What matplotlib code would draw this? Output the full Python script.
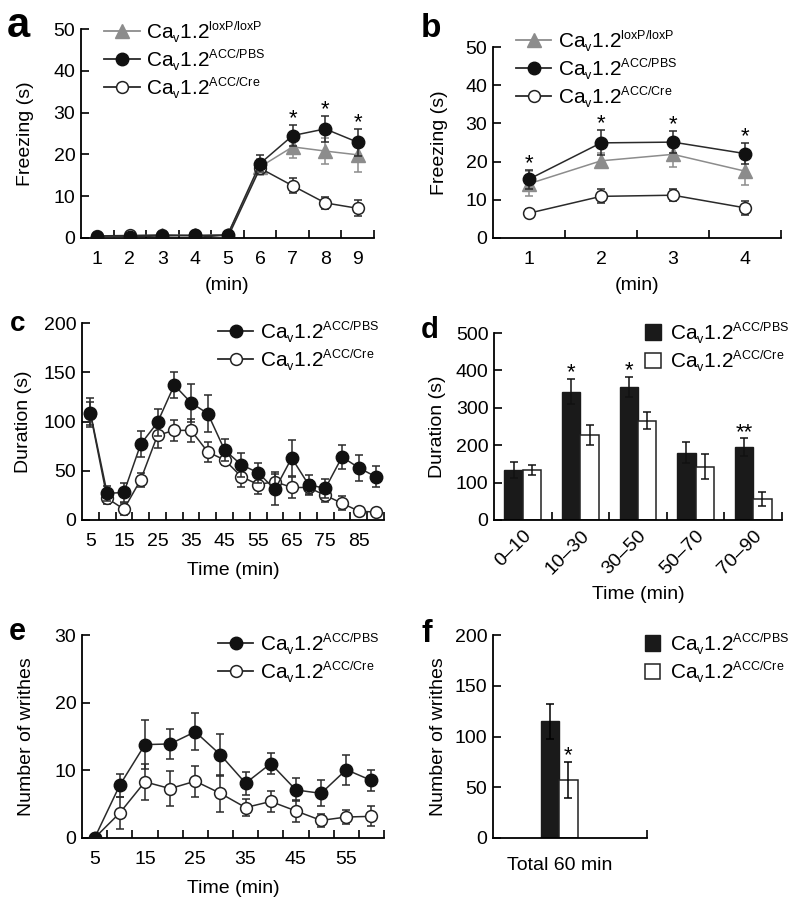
import matplotlib
matplotlib.use('Agg')
import matplotlib.pyplot as plt
from matplotlib.lines import Line2D
from matplotlib.patches import Patch
import numpy as np

try:
    # smaller super/subscripts, closer to the journal style
    import matplotlib._mathtext as _mt
    _mt.SHRINK_FACTOR = 0.6
except Exception:
    pass

plt.rcParams['font.family'] = ['Liberation Sans', 'DejaVu Sans']
plt.rcParams['mathtext.fontset'] = 'custom'
plt.rcParams['mathtext.rm'] = 'Liberation Sans'
plt.rcParams['font.size'] = 14

# panel a: conditioning (min 1..9)
a_min = [1, 2, 3, 4, 5, 6, 7, 8, 9]
a_lox = [0.3, 0.5, 0.7, 0.6, 0.8, 17.0, 21.8, 20.8, 19.9]
a_lox_err = [0.4, 0.4, 0.4, 0.4, 0.4, 2.0, 2.6, 3.1, 4.0]
a_pbs = [0.2, 0.3, 0.5, 0.6, 0.7, 17.8, 24.5, 26.1, 22.9]
a_pbs_err = [0.3, 0.3, 0.3, 0.3, 0.3, 2.0, 2.5, 3.2, 3.2]
a_cre = [0.5, 0.6, 0.7, 0.6, 0.0, 16.7, 12.5, 8.4, 7.1]
a_cre_err = [0.3, 0.3, 0.3, 0.3, 0.3, 1.5, 1.8, 1.5, 1.9]
a_star = [7, 8, 9]

# panel b: test (min 1..4)
b_min = [1, 2, 3, 4]
b_lox = [14.2, 20.2, 21.9, 17.5]
b_lox_err = [3.3, 2.0, 3.3, 3.7]
b_pbs = [15.4, 24.9, 25.1, 22.1]
b_pbs_err = [2.5, 3.3, 2.9, 2.8]
b_cre = [6.5, 10.9, 11.2, 7.9]
b_cre_err = [1.0, 1.8, 1.6, 1.9]
b_star = [1, 2, 3, 4]

# panel c: formalin duration
c_time = [5, 10, 15, 20, 25, 30, 35, 40, 45, 50, 55, 60, 65, 70, 75, 80, 85, 90]
c_pbs = [109, 27, 28, 77, 99, 137, 119, 108, 71, 56, 48, 31, 63, 36, 32, 64, 53, 44]
c_pbs_err = [15, 8, 10, 13, 14, 13, 19, 19, 11, 12, 10, 16, 18, 10, 10, 12, 13, 11]
c_cre = [108, 22, 11, 41, 86, 91, 91, 69, 61, 44, 36, 39, 33, 33, 25, 17, 9, 8]
c_cre_err = [12, 6, 6, 7, 13, 11, 12, 10, 5, 10, 10, 10, 11, 8, 7, 7, 3, 3]

# panel d: binned duration
d_bins = ['0–10', '10–30', '30–50', '50–70', '70–90']
d_pbs = [134, 343, 355, 180, 195]
d_pbs_err = [22, 33, 27, 28, 23]
d_cre = [133, 227, 266, 143, 56]
d_cre_err = [13, 26, 22, 33, 19]
d_star = ['', '*', '*', '', '**']

# panel e: writhes per 5 min
e_time = [5, 10, 15, 20, 25, 30, 35, 40, 45, 50, 55, 60]
e_pbs = [0, 7.8, 13.8, 13.9, 15.7, 12.3, 8.1, 11.0, 7.1, 6.6, 10.1, 8.5]
e_pbs_err = [0, 1.7, 3.6, 2.2, 2.7, 3.1, 1.7, 1.6, 1.7, 1.9, 2.2, 1.6]
e_cre = [0, 3.7, 8.3, 7.3, 8.4, 6.6, 4.5, 5.4, 4.0, 2.6, 3.1, 3.2]
e_cre_err = [0, 2.4, 2.7, 2.6, 2.3, 2.7, 1.3, 1.5, 1.6, 1.0, 1.0, 1.5]

# panel f: total writhes
f_pbs, f_pbs_err = 115, 17
f_cre, f_cre_err = 57, 18

lab_lox = r'Ca$_\mathregular{v}$1.2$^\mathregular{loxP/loxP}$'
lab_pbs = r'Ca$_\mathregular{v}$1.2$^\mathregular{ACC/PBS}$'
lab_cre = r'Ca$_\mathregular{v}$1.2$^\mathregular{ACC/Cre}$'

GREY = '#8c8c8c'
DARK = '#2a2a2a'
W, H = 800, 906
fig = plt.figure(figsize=(8, 9.06), dpi=100)


def make_ax(l, r, t, b):
    return fig.add_axes([l / W, 1 - b / H, (r - l) / W, (b - t) / H])


def style(ax, ylab_x):
    for s in ['top', 'right']:
        ax.spines[s].set_visible(False)
    for s in ['left', 'bottom']:
        ax.spines[s].set_linewidth(1.3)
    ax.tick_params(axis='y', direction='in', length=6, width=1.2, pad=4)
    ax.tick_params(axis='x', which='major', length=0, pad=9)
    ax.tick_params(axis='x', which='minor', direction='in', length=6, width=1.2)
    ax.yaxis.set_label_coords(ylab_x, 0.5)


def lines(ax, x, y, err, kind):
    if kind == 'lox':
        ax.errorbar(x, y, yerr=err, fmt='-^', color=GREY, mfc=GREY, mec=GREY,
                    ms=9.5, lw=1.1, elinewidth=1.1, capsize=3, capthick=1.1, zorder=2)
    elif kind == 'pbs':
        ax.errorbar(x, y, yerr=err, fmt='-o', color=DARK, mfc='#111111', mec='#111111',
                    ms=9, lw=1.1, elinewidth=1.1, capsize=3, capthick=1.1, zorder=3)
    else:
        ax.errorbar(x, y, yerr=err, fmt='-o', color=DARK, mfc='white', mec='#222222',
                    ms=8.5, mew=1.1, lw=1.1, elinewidth=1.1, capsize=3, capthick=1.1, zorder=2.5)


h_lox = Line2D([], [], color=GREY, marker='^', ms=9.5, mfc=GREY, mec=GREY, lw=1.3)
h_pbs = Line2D([], [], color=DARK, marker='o', ms=9, mfc='#111111', mec='#111111', lw=1.3)
h_cre = Line2D([], [], color=DARK, marker='o', ms=8.5, mfc='white', mec='#222222', mew=1.1, lw=1.3)
h_bpbs = Patch(facecolor='#1a1a1a', edgecolor='#1a1a1a')
h_bcre = Patch(facecolor='white', edgecolor='#222222', lw=1.1)


def legend(ax, handles, labels, x, y, bar=False):
    kw = dict(handlelength=0.75, handleheight=0.75, handletextpad=0.45) if bar else \
        dict(handlelength=1.7, handletextpad=0.3)
    ax.legend(handles, labels, loc='upper left', bbox_to_anchor=(x, y), frameon=False,
              fontsize=15, borderpad=0, borderaxespad=0, labelspacing=0.15, **kw)


def star(ax, x, ytop, s='*'):
    # asterisk sitting just above the error-bar cap
    ax.annotate(s, (x, ytop), xytext=(0, 0.5), textcoords='offset points',
                ha='center', va='baseline', fontsize=16)


# ---- a
ax = make_ax(81, 374, 29, 238)
lines(ax, a_min, a_cre, a_cre_err, 'cre')
lines(ax, a_min, a_lox, a_lox_err, 'lox')
lines(ax, a_min, a_pbs, a_pbs_err, 'pbs')
for x in a_star:
    i = a_min.index(x)
    star(ax, x, a_pbs[i] + a_pbs_err[i])
ax.set_xlim(0.5, 9.5)
ax.set_ylim(0, 50)
ax.set_xticks(a_min)
ax.set_xticks(np.arange(1.5, 10, 1), minor=True)
ax.set_yticks(range(0, 51, 10))
ax.set_xlabel('(min)', labelpad=7)
ax.set_ylabel('Freezing (s)')
style(ax, -0.16)
legend(ax, [h_lox, h_pbs, h_cre], [lab_lox, lab_pbs, lab_cre], 0.08, 1.05)

# ---- b
ax = make_ax(493, 781, 47, 238)
lines(ax, b_min, b_cre, b_cre_err, 'cre')
lines(ax, b_min, b_lox, b_lox_err, 'lox')
lines(ax, b_min, b_pbs, b_pbs_err, 'pbs')
for x in b_star:
    i = b_min.index(x)
    star(ax, x, b_pbs[i] + b_pbs_err[i])
ax.set_xlim(0.5, 4.5)
ax.set_ylim(0, 50)
ax.set_xticks(b_min)
ax.set_xticks(np.arange(1.5, 5, 1), minor=True)
ax.set_yticks(range(0, 51, 10))
ax.set_xlabel('(min)', labelpad=7)
ax.set_ylabel('Freezing (s)')
style(ax, -0.155)
legend(ax, [h_lox, h_pbs, h_cre], [lab_lox, lab_pbs, lab_cre], 0.08, 1.1)

# ---- c
ax = make_ax(82, 384, 323, 520)
lines(ax, c_time, c_cre, c_cre_err, 'cre')
lines(ax, c_time, c_pbs, c_pbs_err, 'pbs')
ax.set_xlim(2.5, 92.5)
ax.set_ylim(0, 200)
ax.set_xticks(range(5, 90, 10))
ax.set_xticks(np.arange(7.5, 93, 5), minor=True)
ax.set_yticks(range(0, 201, 50))
ax.set_xlabel('Time (min)', labelpad=9)
ax.set_ylabel('Duration (s)')
style(ax, -0.165)
legend(ax, [h_pbs, h_cre], [lab_pbs, lab_cre], 0.45, 1.02)

# ---- d
ax = make_ax(494, 782, 333, 520)
xg = np.arange(len(d_bins))
bw = 0.32
ax.bar(xg - bw / 2, d_pbs, bw, yerr=d_pbs_err, color='#1a1a1a', edgecolor='#1a1a1a', lw=1,
       error_kw=dict(elinewidth=1.1, capsize=3, capthick=1.1, ecolor='#111111'))
ax.bar(xg + bw / 2, d_cre, bw, yerr=d_cre_err, color='white', edgecolor='#222222', lw=1.1,
       error_kw=dict(elinewidth=1.1, capsize=3, capthick=1.1, ecolor='#111111'))
for i, s in enumerate(d_star):
    if s:
        star(ax, xg[i] - bw / 2, d_pbs[i] + d_pbs_err[i], s)
ax.set_xlim(-0.5, 4.5)
ax.set_ylim(0, 500)
ax.set_xticks(xg)
ax.set_xticklabels(d_bins, rotation=45, ha='right', rotation_mode='anchor')
ax.set_xticks(np.arange(0.5, 5, 1), minor=True)
ax.set_yticks(range(0, 501, 100))
ax.set_xlabel('Time (min)', labelpad=6)
ax.set_ylabel('Duration (s)')
style(ax, -0.165)
ax.tick_params(axis='x', which='major', pad=5)
legend(ax, [h_bpbs, h_bcre], [lab_pbs, lab_cre], 0.525, 1.07, bar=True)

# ---- e
ax = make_ax(82, 384, 635, 838)
lines(ax, e_time, e_cre, e_cre_err, 'cre')
lines(ax, e_time, e_pbs, e_pbs_err, 'pbs')
ax.set_xlim(2.5, 62.5)
ax.set_ylim(0, 30)
ax.set_xticks(range(5, 60, 10))
ax.set_xticks(np.arange(7.5, 63, 5), minor=True)
ax.set_yticks(range(0, 31, 10))
ax.set_xlabel('Time (min)', labelpad=9)
ax.set_ylabel('Number of writhes')
style(ax, -0.155)
legend(ax, [h_pbs, h_cre], [lab_pbs, lab_cre], 0.45, 1.02)

# ---- f
ax = make_ax(493, 647, 635, 838)
fw = 0.12
ax.bar([-fw / 2], [f_pbs], fw, yerr=[f_pbs_err], color='#1a1a1a', edgecolor='#1a1a1a',
       error_kw=dict(elinewidth=1.1, capsize=3, capthick=1.1))
ax.bar([fw / 2], [f_cre], fw, yerr=[f_cre_err], color='white', edgecolor='#222222', lw=1.1,
       error_kw=dict(elinewidth=1.1, capsize=3, capthick=1.1))
star(ax, fw / 2, f_cre + f_cre_err)
ax.set_xlim(-0.43, 0.57)
ax.set_ylim(0, 200)
ax.set_xticks([0])
ax.set_xticklabels(['Total 60 min'])
ax.set_xticks([0.57], minor=True)
ax.set_yticks(range(0, 201, 50))
ax.set_ylabel('Number of writhes')
style(ax, -0.3)
ax.tick_params(axis='x', which='major', pad=14)
legend(ax, [h_bpbs, h_bcre], [lab_pbs, lab_cre], 0.985, 1.02, bar=True)

# panel letters
for txt, x, y, fs in [('a', 7, 37, 30), ('b', 421, 37, 24), ('c', 10, 331, 20),
                      ('d', 421, 338, 21), ('e', 9, 640, 22), ('f', 422, 642, 23)]:
    fig.text(x / W, 1 - y / H, txt, fontsize=fs, fontweight='bold', ha='left', va='baseline')

fig.savefig('out.png', dpi=100)
